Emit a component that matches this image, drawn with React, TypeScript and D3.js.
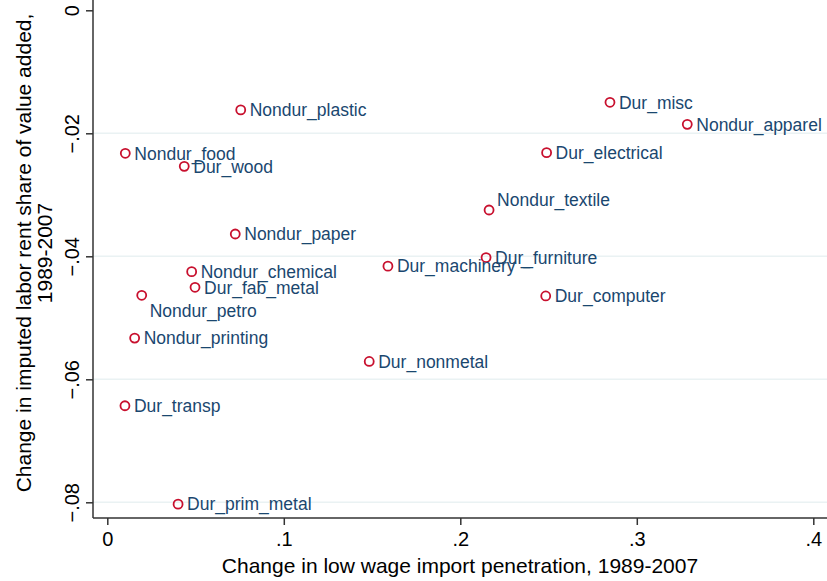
import React, { useRef, useEffect } from "react";
import * as d3 from "d3";

const names = [
    "Nondur_plastic", "Nondur_food", "Dur_wood", "Nondur_paper", "Nondur_chemical",
    "Dur_fab_metal", "Nondur_petro", "Nondur_printing", "Dur_nonmetal", "Dur_transp",
    "Dur_prim_metal", "Dur_misc", "Nondur_apparel", "Dur_electrical", "Nondur_textile",
    "Dur_furniture", "Dur_machinery", "Dur_computer",
];
const importChange = [
    0.0756, 0.0102, 0.0436, 0.0725, 0.0478,
    0.0497, 0.0195, 0.0155, 0.1484, 0.0100,
    0.0401, 0.2848, 0.3286, 0.2489, 0.2163,
    0.2146, 0.1590, 0.2484,
];
const rentChange = [
    -0.0162, -0.02325, -0.02537, -0.03637, -0.0425,
    -0.04504, -0.04634, -0.0533, -0.0571, -0.0643,
    -0.0803, -0.01496, -0.01854, -0.02315, -0.03247,
    -0.0402, -0.0416, -0.04645,
];
// clock position of each marker label (3 = right)
const labelPos = [3, 3, 3, 3, 3, 3, 5, 3, 3, 3, 3, 3, 3, 3, 1, 3, 3, 3];
const xTicks = [0, 0.1, 0.2, 0.3, 0.4];
const yTicks = [0, -0.02, -0.04, -0.06, -0.08];

const W = 827;
const H = 581;

const App: React.FC = () => {
    const svgRef = useRef<SVGSVGElement | null>(null);

    useEffect(() => {
        const svg = d3.select(svgRef.current);
        svg.selectAll("*").remove();
        svg.attr("width", W).attr("height", H);

        const left = 93, bottom = 518, right = W;
        const x = d3.scaleLinear().domain([0, 0.4]).range([107.3, 813.3]);
        const y = d3.scaleLinear().domain([0, -0.08]).range([10.3, 502.3]);
        const fmt = (v: number) => (v === 0 ? "0" : d3.format(".2~f")(v).replace("0.", "."));
        const fontFam = "'Liberation Sans', Arial, sans-serif";

        // gridlines
        svg.append("g")
            .selectAll("line")
            .data(yTicks.filter((t) => t !== 0))
            .join("line")
            .attr("x1", left).attr("x2", right)
            .attr("y1", (d) => y(d)).attr("y2", (d) => y(d))
            .attr("stroke", "#eaf2f3").attr("stroke-width", 1.5);

        // y axis
        const yAxis = svg.append("g")
            .attr("transform", `translate(${left},0)`)
            .call(d3.axisLeft(y).tickValues(yTicks).tickSize(7).tickPadding(0).tickFormat((d) => fmt(+d)));
        yAxis.select(".domain").attr("d", `M0,0V${bottom}`).attr("stroke", "#333").attr("stroke-width", 1.5);
        yAxis.selectAll(".tick line").attr("stroke", "#333").attr("stroke-width", 1.5);
        yAxis.selectAll(".tick text")
            .attr("font-family", fontFam).attr("font-size", 20).attr("fill", "#000")
            .attr("x", 0).attr("dy", null)
            .attr("text-anchor", "middle")
            .attr("transform", "translate(-14,0) rotate(-90)")
            .attr("dominant-baseline", "auto");

        // x axis
        const xAxis = svg.append("g")
            .attr("transform", `translate(0,${bottom})`)
            .call(d3.axisBottom(x).tickValues(xTicks).tickSize(7).tickPadding(7).tickFormat((d) => fmt(+d)));
        xAxis.select(".domain").attr("d", `M${left},0H${right}`).attr("stroke", "#333").attr("stroke-width", 1.5);
        xAxis.selectAll(".tick line").attr("stroke", "#333").attr("stroke-width", 1.5);
        xAxis.selectAll(".tick text")
            .attr("font-family", fontFam).attr("font-size", 20).attr("fill", "#000");

        // axis titles
        svg.append("text")
            .attr("x", 460).attr("y", 573)
            .attr("text-anchor", "middle")
            .attr("font-family", fontFam).attr("font-size", 21)
            .text("Change in low wage import penetration, 1989-2007");
        const yt = svg.append("text")
            .attr("transform", "translate(31,253) rotate(-90)")
            .attr("text-anchor", "middle")
            .attr("font-family", fontFam).attr("font-size", 21);
        yt.append("tspan").attr("x", 0).attr("y", 0).text("Change in imputed labor rent share of value added,");
        yt.append("tspan").attr("x", 0).attr("y", 21).text("1989-2007");

        const data = names.map((n, i) => ({ n, x: importChange[i], y: rentChange[i], p: labelPos[i] }));

        // markers
        svg.append("g")
            .selectAll("circle")
            .data(data)
            .join("circle")
            .attr("cx", (d) => x(d.x)).attr("cy", (d) => y(d.y))
            .attr("r", 4.5)
            .attr("fill", "none").attr("stroke", "#c8102e").attr("stroke-width", 1.8);

        // labels
        svg.append("g")
            .selectAll("text")
            .data(data)
            .join("text")
            .attr("x", (d) => x(d.x) + (d.p === 3 ? 9 : 8))
            .attr("y", (d) => y(d.y) + (d.p === 5 ? 15 : d.p === 1 ? -10 : 0))
            .attr("dy", "0.36em")
            .attr("font-family", fontFam).attr("font-size", 17.5).attr("fill", "#1a476f")
            .text((d) => (d.n === "Dur_machinery" ? "Dur_machinery –" : d.n));

        return () => {
            svg.selectAll("*").remove();
        };
    }, []);

    return <svg ref={svgRef} style={{ position: "absolute", left: 0, top: 0, background: "#fff" }}></svg>;
};

export default App;
